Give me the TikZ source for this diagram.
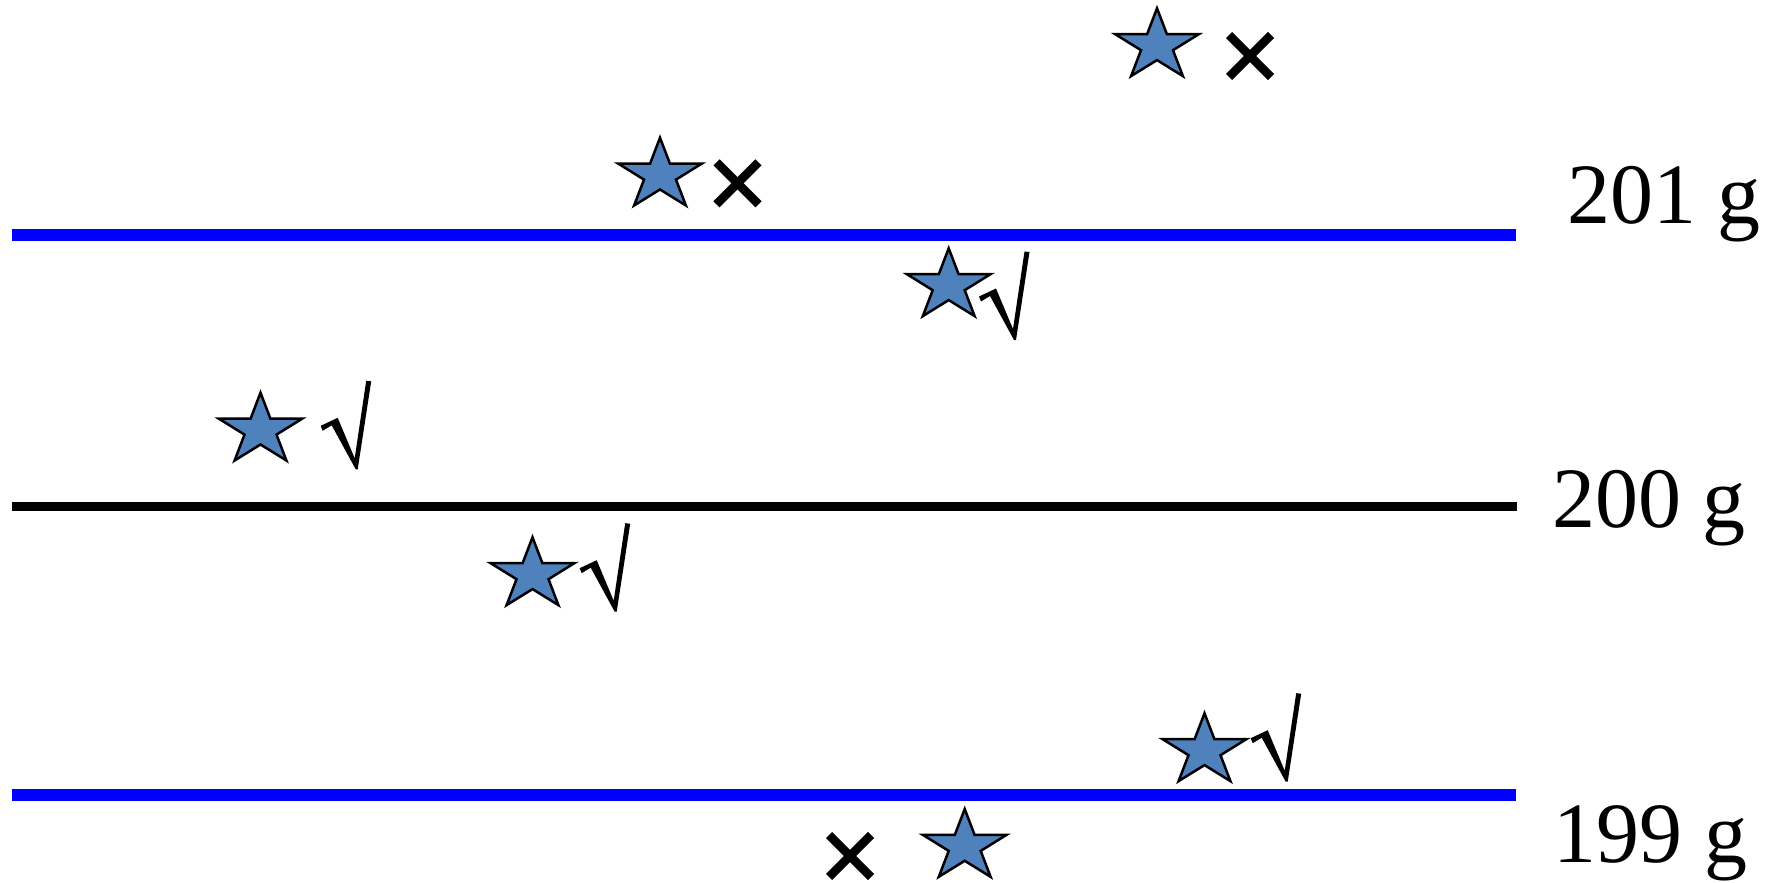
\documentclass[tikz,border=0pt]{standalone}
\usepackage{fontspec}
\setmainfont{Liberation Serif}
\definecolor{starblue}{HTML}{4F81BD}
\definecolor{lineblue}{HTML}{0000FF}
\tikzset{
  x=0.5pt, y=-0.5pt,
  limitline/.style={draw=lineblue, line width=5.8pt},
  meanline/.style={draw=black, line width=4.35pt},
  starstyle/.style={fill=starblue, draw=black, line width=1.25pt, line join=miter},
  crossstyle/.style={draw=black, line width=4.3pt},
  label/.style={anchor=base west, inner sep=0pt, font=\fontsize{43}{50}\selectfont},
  bluestar/.pic={
    \filldraw[starstyle] (0,-37.5) -- (9.9,-11.6) -- (41.8,-11.6) -- (16,4.4) -- (25.9,30.3)
      -- (0,14.3) -- (-25.9,30.3) -- (-16,4.4) -- (-41.8,-11.6) -- (-9.9,-11.6) -- cycle;
  },
  crossmark/.pic={
    \draw[crossstyle] (-21,-21) -- (21,21);
    \draw[crossstyle] (-21,21) -- (21,-21);
  },
  checkmark/.pic={
    \fill[black] (-34,-38.5) -- (-36,-43.5) -- (-19,-51.5) -- (-2,-11) -- (9.5,-88.5)
      -- (14.5,-88) -- (1,0) -- (-1,0) -- (-25,-44) -- cycle;
  }
}
\begin{document}
\begin{tikzpicture}
\useasboundingbox (0,0) rectangle (1773,883);
% lines
\coordinate (top-l) at (12,235);
\coordinate (top-r) at (1516,235);
\coordinate (mid-l) at (12,506.7);
\coordinate (mid-r) at (1516.7,506.7);
\coordinate (bot-l) at (12,795);
\coordinate (bot-r) at (1516,795);
\draw[limitline] (top-l) -- (top-r);
\draw[meanline] (mid-l) -- (mid-r);
\draw[limitline] (bot-l) -- (bot-r);
% labels
\node[label] (l201) at (1567,223) {201 g};
\node[label] (l200) at (1552,527.7) {200 g};
\node[label] (l199) at (1553.5,862.7) {199 g};
% stars
\pic (sA) at (1157,45.8) {bluestar};
\pic (sB) at (660,175.2) {bluestar};
\pic (sC) at (948.7,285.8) {bluestar};
\pic (sD) at (260.5,430.2) {bluestar};
\pic (sE) at (532.5,574.8) {bluestar};
\pic (sF) at (1204.5,750.8) {bluestar};
\pic (sG) at (964.7,846.5) {bluestar};
% crosses
\pic (xA) at (1250,56) {crossmark};
\pic (xB) at (737.5,183.3) {crossmark};
\pic (xG) at (850,856) {crossmark};
% checks
\pic (cC) at (1015,340) {checkmark};
\pic (cD) at (356.7,469.3) {checkmark};
\pic (cE) at (615.7,611.7) {checkmark};
\pic (cF) at (1286.7,781.7) {checkmark};
\end{tikzpicture}
\end{document}
